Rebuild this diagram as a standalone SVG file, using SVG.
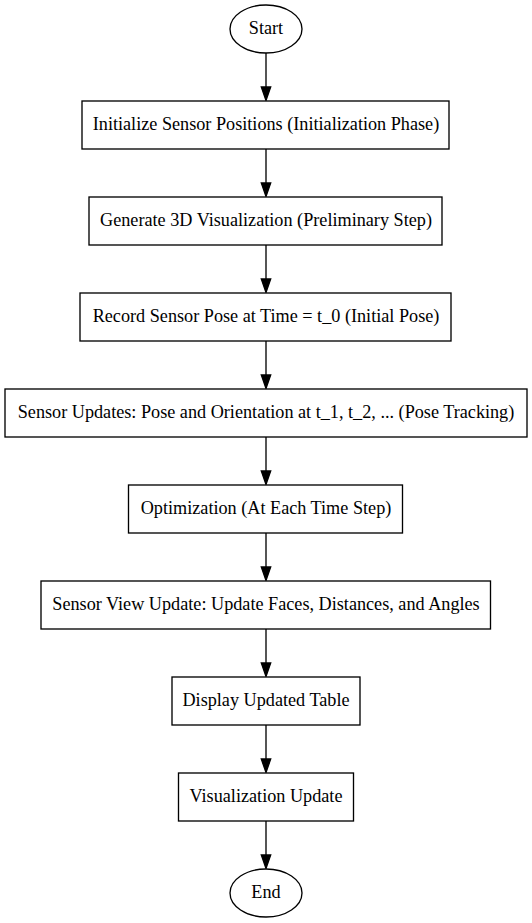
<svg xmlns="http://www.w3.org/2000/svg" width="532" height="923" viewBox="0 0 532 923">
<defs>
<style>
.n rect, .n ellipse { fill: #ffffff; stroke: #000000; stroke-width: 1.33; }
.n text { font-family: "Liberation Serif", "Times New Roman", serif; font-size: 18.2px; fill: #000000; text-anchor: middle; }
.e line { stroke: #000000; stroke-width: 1.33; }
.e polygon { fill: #000000; stroke: #000000; stroke-width: 1.33; }
</style>
</defs>
<rect x="0" y="0" width="532" height="923" fill="#ffffff"/>
<g id="edges" class="e">
<line x1="266" y1="53" x2="266" y2="87"/><polygon points="261.3,87 270.7,87 266,100.5"/>
<line x1="266" y1="149" x2="266" y2="183"/><polygon points="261.3,183 270.7,183 266,196.5"/>
<line x1="266" y1="245" x2="266" y2="279"/><polygon points="261.3,279 270.7,279 266,292.5"/>
<line x1="266" y1="341" x2="266" y2="375"/><polygon points="261.3,375 270.7,375 266,388.5"/>
<line x1="266" y1="437" x2="266" y2="471"/><polygon points="261.3,471 270.7,471 266,484.5"/>
<line x1="266" y1="533" x2="266" y2="567"/><polygon points="261.3,567 270.7,567 266,580.5"/>
<line x1="266" y1="629" x2="266" y2="663"/><polygon points="261.3,663 270.7,663 266,676.5"/>
<line x1="266" y1="725" x2="266" y2="759"/><polygon points="261.3,759 270.7,759 266,772.5"/>
<line x1="266" y1="821" x2="266" y2="855"/><polygon points="261.3,855 270.7,855 266,868.5"/>
</g>
<g id="start" class="n"><ellipse cx="266" cy="29" rx="36" ry="24"/><text x="266" y="34">Start</text></g>
<g id="init" class="n"><rect x="82" y="101" width="367" height="48"/><text x="266" y="130">Initialize Sensor Positions (Initialization Phase)</text></g>
<g id="gen3d" class="n"><rect x="89" y="197" width="353" height="48"/><text x="266" y="226">Generate 3D Visualization (Preliminary Step)</text></g>
<g id="record" class="n"><rect x="80" y="293" width="371" height="48"/><text x="266" y="322">Record Sensor Pose at Time = t_0 (Initial Pose)</text></g>
<g id="updates" class="n"><rect x="5" y="389" width="522" height="48"/><text x="266" y="418">Sensor Updates: Pose and Orientation at t_1, t_2, ... (Pose Tracking)</text></g>
<g id="optim" class="n"><rect x="128.5" y="485" width="274" height="48"/><text x="266" y="514">Optimization (At Each Time Step)</text></g>
<g id="view" class="n"><rect x="41" y="581" width="449.5" height="48"/><text x="266" y="610">Sensor View Update: Update Faces, Distances, and Angles</text></g>
<g id="table" class="n"><rect x="172" y="677" width="188" height="48"/><text x="266" y="706">Display Updated Table</text></g>
<g id="vis" class="n"><rect x="178.5" y="773" width="175" height="48"/><text x="266" y="802">Visualization Update</text></g>
<g id="end" class="n"><ellipse cx="266" cy="893" rx="36" ry="24"/><text x="266" y="898">End</text></g>
</svg>
